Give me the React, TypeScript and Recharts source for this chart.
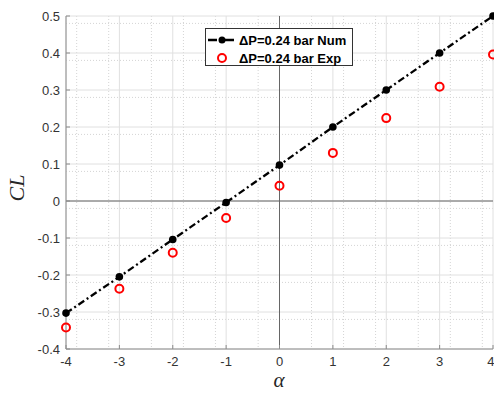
import React from 'react';
import { ComposedChart, Line, XAxis, YAxis, CartesianGrid, ReferenceLine, Legend } from 'recharts';

// angle of attack (deg)
const alpha = [-4, -3, -2, -1, 0, 1, 2, 3, 4];
// lift coefficient, numerical
const clNum = [-0.303, -0.205, -0.104, -0.004, 0.097, 0.2, 0.3, 0.4, 0.5];
// lift coefficient, experiment
const clExp = [-0.342, -0.237, -0.14, -0.046, 0.041, 0.13, 0.224, 0.309, 0.396];

const xTicks = [-4, -3, -2, -1, 0, 1, 2, 3, 4];
const yTicks = [-0.4, -0.3, -0.2, -0.1, 0, 0.1, 0.2, 0.3, 0.4, 0.5];

const numLabel = '\u0394P=0.24 bar Num';
const expLabel = '\u0394P=0.24 bar Exp';

// minor grid: 5 subdivisions per major step
const minorX: number[] = [];
for (let i = 0; i < xTicks.length - 1; i++) {
  for (let k = 1; k < 5; k++) minorX.push(xTicks[i] + (k * (xTicks[i + 1] - xTicks[i])) / 5);
}
const minorY: number[] = [];
for (let i = 0; i < yTicks.length - 1; i++) {
  for (let k = 1; k < 5; k++) minorY.push(yTicks[i] + (k * (yTicks[i + 1] - yTicks[i])) / 5);
}

const data = alpha.map((a, i) => ({ alpha: a, num: clNum[i], exp: clExp[i] }));

const tickStyle = { fontFamily: 'Arial, "Liberation Sans", sans-serif', fontSize: 13, fill: '#333' };
const axisColor = '#8c8c8c';
const dashDot = '7 3 2 3';

const LegendBox = () => (
  <div
    style={{
      width: 146,
      height: 36,
      border: '1px solid #333',
      background: '#fff',
      fontFamily: 'Arial, "Liberation Sans", sans-serif',
      fontSize: 13,
      fontWeight: 'bold',
      color: '#000',
      boxSizing: 'content-box',
    }}
  >
    <div style={{ display: 'flex', alignItems: 'center', height: 18, marginTop: 2 }}>
      <svg width={32} height={12} style={{ marginLeft: 1 }}>
        <line x1={1} y1={6} x2={30} y2={6} stroke="#000" strokeWidth={2.3} strokeDasharray="9 3 2 3" />
        <circle cx={15} cy={6} r={3.5} fill="#000" />
      </svg>
      <span>{numLabel}</span>
    </div>
    <div style={{ display: 'flex', alignItems: 'center', height: 18 }}>
      <svg width={32} height={12} style={{ marginLeft: 1 }}>
        <circle cx={15} cy={6} r={4} fill="none" stroke="#ff0000" strokeWidth={2} />
      </svg>
      <span>{expLabel}</span>
    </div>
  </div>
);

const YLabel = () => (
  <text
    x={0}
    y={0}
    transform="translate(24 188) rotate(-90)"
    textAnchor="middle"
    fontFamily='"Times New Roman", "Liberation Serif", serif'
    fontStyle="italic"
    fontSize={22}
    fill="#262626"
  >
    CL
  </text>
);

const XLabel = () => (
  <text
    x={279}
    y={387}
    textAnchor="middle"
    fontFamily='"Times New Roman", "Liberation Serif", serif'
    fontStyle="italic"
    fontSize={21}
    fill="#262626"
  >
    α
  </text>
);

export default function App() {
  return (
    <div style={{ position: 'absolute', left: 0, top: 0, background: '#fff' }}>
      <ComposedChart width={494} height={394} data={data} margin={{ top: 16, right: 1, bottom: 0, left: 0 }}>
        <CartesianGrid
          verticalValues={minorX}
          horizontalValues={minorY}
          stroke="#d4d4d4"
          strokeDasharray="1 2"
        />
        <CartesianGrid verticalValues={xTicks} horizontalValues={yTicks} stroke="#e0e0e0" />
        <XAxis
          dataKey="alpha"
          type="number"
          domain={[-4, 4]}
          ticks={xTicks}
          height={45}
          stroke={axisColor}
          tickSize={-4}
          tickMargin={12}
          tick={tickStyle}
          tickFormatter={(v) => String(v)}
          label={<XLabel />}
        />
        <XAxis
          xAxisId="top"
          orientation="top"
          type="number"
          domain={[-4, 4]}
          ticks={xTicks}
          height={0}
          stroke={axisColor}
          tickSize={-4}
          tickFormatter={() => ''}
        />
        <YAxis
          type="number"
          domain={[-0.4, 0.5]}
          ticks={yTicks}
          width={66}
          stroke={axisColor}
          tickSize={-4}
          tickMargin={10}
          tick={tickStyle}
          tickFormatter={(v) => (Math.abs(v) < 1e-9 ? '0' : String(Number(v.toFixed(1))))}
          label={<YLabel />}
        />
        <YAxis
          yAxisId="right"
          orientation="right"
          type="number"
          domain={[-0.4, 0.5]}
          ticks={yTicks}
          width={0}
          stroke={axisColor}
          tickSize={-4}
          tickFormatter={() => ''}
        />
        <ReferenceLine x={0} stroke="#666" strokeWidth={1} />
        <ReferenceLine y={0} stroke="#666" strokeWidth={1} />
        <Line
          dataKey="num"
          stroke="#000"
          strokeWidth={2.3}
          strokeDasharray={dashDot}
          dot={{ r: 3.8, fill: '#000', stroke: '#000', strokeWidth: 0 }}
          isAnimationActive={false}
        />
        <Line
          dataKey="exp"
          stroke="none"
          dot={{ r: 4, fill: 'none', stroke: '#ff0000', strokeWidth: 2 }}
          isAnimationActive={false}
        />
        <Legend
          layout="horizontal"
          verticalAlign="middle"
          align="center"
          content={<LegendBox />}
          wrapperStyle={{ position: 'absolute', left: 205, top: 28, width: 148, height: 38 }}
        />
      </ComposedChart>
    </div>
  );
}
